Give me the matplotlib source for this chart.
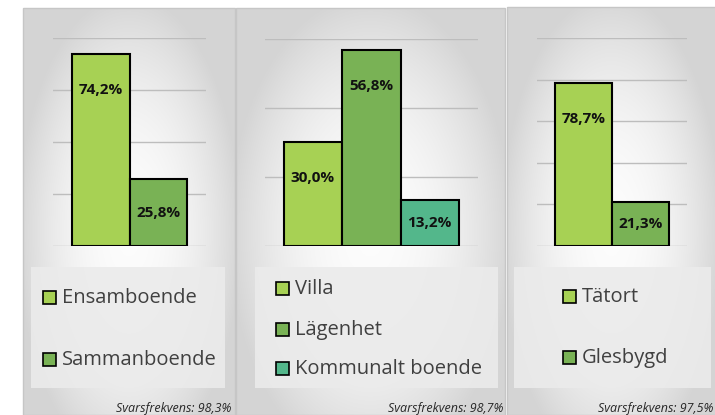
import matplotlib
matplotlib.use('Agg')
import matplotlib.pyplot as plt
import numpy as np
from matplotlib.patches import Rectangle

# ---------------- data ----------------
p1_categories = ['Ensamboende', 'Sammanboende']
p1_values = [74.2, 25.8]
p1_response = 'Svarsfrekvens: 98,3%'

p2_categories = ['Villa', 'Lägenhet', 'Kommunalt boende']
p2_values = [30.0, 56.8, 13.2]
p2_response = 'Svarsfrekvens: 98,7%'

p3_categories = ['Tätort', 'Glesbygd']
p3_values = [78.7, 21.3]
p3_response = 'Svarsfrekvens: 97,5%'

y_max = [80, 60, 100]
y_step = 20

bar_colors = ['#a7d154', '#79b255', '#53b78b']

# ---------------- layout (pixels) ----------------
W, H = 715, 415
plt.rcParams['font.family'] = ['Open Sans', 'DejaVu Sans']

fig = plt.figure(figsize=(W / 100, H / 100), dpi=100)
fig.patch.set_facecolor('white')


def rect_fig(x0, y0, x1, y1):
    return [x0 / W, 1 - y1 / H, (x1 - x0) / W, (y1 - y0) / H]


panels = [
    dict(cats=p1_categories, vals=p1_values, resp=p1_response, ymax=y_max[0],
         panel=(23, 8, 235, 415), plot=(53, 38.5, 206, 246),
         legbox=(31, 267, 225, 388), leg_x=43, leg_ys=[297, 359], resp_x=231),
    dict(cats=p2_categories, vals=p2_values, resp=p2_response, ymax=y_max[1],
         panel=(236, 8, 505, 415), plot=(265, 39, 477.7, 246),
         legbox=(255, 267, 498, 388), leg_x=276, leg_ys=[288, 329, 368], resp_x=503),
    dict(cats=p3_categories, vals=p3_values, resp=p3_response, ymax=y_max[2],
         panel=(507, 7, 716, 415), plot=(536.7, 38.5, 687.3, 246),
         legbox=(514, 267, 711, 388), leg_x=563, leg_ys=[296, 357], resp_x=713),
]

for p in panels:
    x0, y0, x1, y1 = p['panel']
    # gradient background
    bg = fig.add_axes(rect_fig(x0, y0, x1, y1), zorder=0)
    nx, ny = 200, 400
    xx, yy = np.meshgrid(np.linspace(-1, 1, nx), np.linspace(0, 1, ny))
    cy = 0.55
    r = np.sqrt(xx ** 2 + ((yy - cy) / 0.55) ** 2)
    v = 0.99 - 0.14 * r ** 2
    v = np.clip(v, 0.835, 1.0)
    img = np.dstack([v, v, v])
    bg.imshow(img, aspect='auto', extent=(0, 1, 1, 0), interpolation='bilinear')
    bg.set_xlim(0, 1)
    bg.set_ylim(1, 0)
    bg.axis('off')
    # panel border
    fig.patches.append(Rectangle((x0 / W, 1 - y1 / H), (x1 - x0) / W, (y1 - y0) / H,
                                 transform=fig.transFigure, facecolor='none',
                                 edgecolor='#c6c6c6', lw=1.0, zorder=1))
    # legend box
    lx0, ly0, lx1, ly1 = p['legbox']
    fig.patches.append(Rectangle((lx0 / W, 1 - ly1 / H), (lx1 - lx0) / W, (ly1 - ly0) / H,
                                 transform=fig.transFigure, facecolor='#ebebeb',
                                 edgecolor='none', alpha=0.9, zorder=1))

    # plot axes
    px0, py0, px1, py1 = p['plot']
    ax = fig.add_axes(rect_fig(px0, py0, px1, py1), zorder=2)
    ax.patch.set_alpha(0)
    n = len(p['vals'])
    xs = np.arange(n)
    ax.bar(xs, p['vals'], width=1.0, color=bar_colors[:n], edgecolor='black',
           linewidth=1.5, zorder=3)
    m = 0.32
    ax.set_xlim(-0.5 - m, n - 0.5 + m)
    ax.set_ylim(0, p['ymax'])
    ax.set_yticks(np.arange(0, p['ymax'] + 1, y_step))
    ax.yaxis.grid(True, color='#bdbdbd', lw=1.0, zorder=0)
    ax.set_axisbelow(True)
    ax.tick_params(left=False, bottom=False, labelleft=False, labelbottom=False)
    for s in ax.spines.values():
        s.set_visible(False)

    ppu = (py1 - py0) / p['ymax']
    for xi, val in zip(xs, p['vals']):
        off_px = min(36, val * ppu / 2)
        ax.text(xi, val - off_px / ppu, f"{val:.1f}%".replace('.', ','),
                ha='center', va='center', fontsize=11, fontweight='bold',
                color='#111111', zorder=5)

    # legend
    sq = 13
    for i, (cat, yc) in enumerate(zip(p['cats'], p['leg_ys'])):
        mx = p['leg_x']
        fig.patches.append(Rectangle((mx / W, 1 - (yc + sq / 2) / H), sq / W, sq / H,
                                     transform=fig.transFigure, facecolor=bar_colors[i],
                                     edgecolor='black', lw=1.2, zorder=3))
        fig.text((mx + sq + 6) / W, 1 - (yc + 0.5) / H, cat, ha='left', va='center',
                 fontsize=14.5, color='#404040', zorder=4)

    # response rate
    fig.text(p['resp_x'] / W, 1 - 408 / H, p['resp'], ha='right', va='center',
             fontsize=9, style='italic', color='#262626', zorder=4)

fig.savefig('out.png', dpi=100, facecolor='white')
